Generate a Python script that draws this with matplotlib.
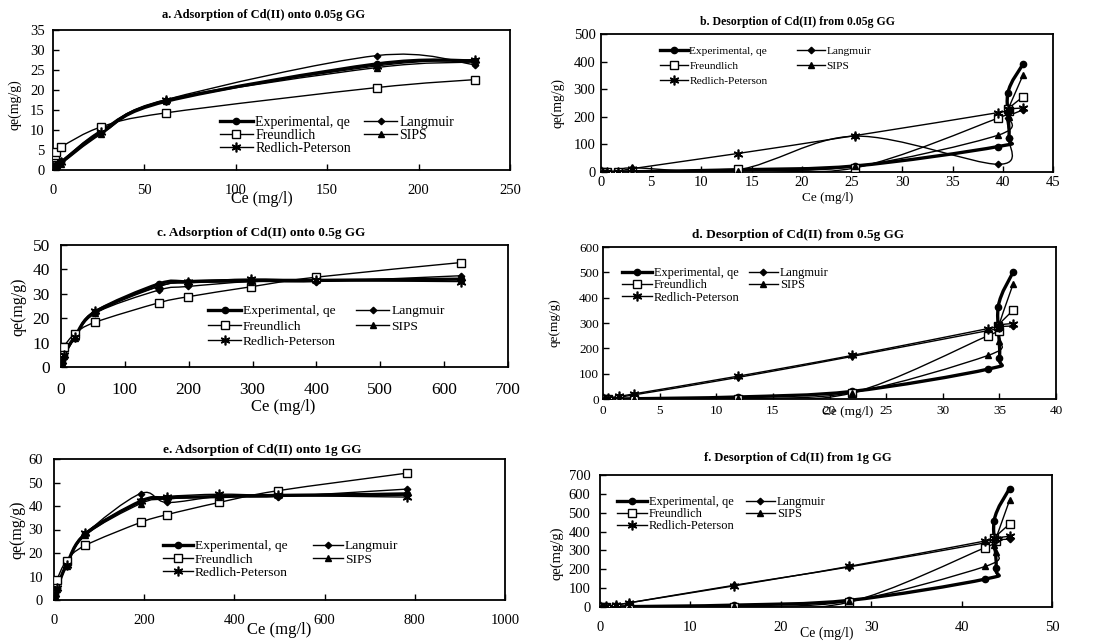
import numpy as np
import matplotlib
matplotlib.use('Agg')
import matplotlib.pyplot as plt
from matplotlib.path import Path
from matplotlib.patches import PathPatch
from matplotlib.lines import Line2D

plt.rcParams['font.family'] = 'Liberation Serif'

# a. adsorption, 0.05 g
ce_a = [0.5, 1.0, 1.8, 4.6, 26.5, 62, 177, 231]
exp_a = [0.3, 0.7, 1.3, 2.0, 9.5, 17.2, 26.5, 27.3]
lang_a = [0.2, 0.6, 1.2, 2.2, 10.0, 17.6, 28.6, 26.3]
freund_a = [3.2, 3.8, 4.4, 5.8, 10.8, 14.3, 20.6, 22.6]
sips_a = [0.1, 0.4, 0.9, 1.6, 9.0, 17.3, 25.6, 27.0]
rp_a = [0.2, 0.6, 1.1, 2.0, 9.6, 17.6, 26.0, 27.6]

# b. desorption, 0.05 g
ce_b = [0.1, 0.6, 1.7, 3.1, 13.6, 25.3, 39.5, 40.6, 40.5, 42.0]
exp_b = [0, 0, 0, 1, 8, 22, 92, 125, 285, 390]
lang_b = [0, 0, 0, 15, 8, 130, 28, 125, 195, 225]
freund_b = [0, 0, 0, 0, 10, 15, 195, 222, 228, 272]
sips_b = [0, 0, 0, 0, 5, 20, 133, 200, 222, 350]
rp_b = [0, 0, 0, 12, 67, 132, 215, 225, 228, 232]

# c. adsorption, 0.5 g
ce_c = [0.5, 2, 4, 22, 53, 153, 199, 298, 399, 626]
exp_c = [0.5, 3, 5, 12.5, 22.5, 34, 35, 35.5, 35.5, 36]
lang_c = [0.5, 2, 4, 12, 22, 31.5, 33, 35, 35, 37.4]
freund_c = [4, 6, 8.2, 13.7, 18.3, 26.3, 28.8, 32.9, 36.8, 42.8]
sips_c = [0.3, 2, 4.5, 12, 22, 33, 34.5, 35, 35.5, 36]
rp_c = [0.5, 2.5, 5, 12.5, 23, 33, 35, 36, 35.5, 35]

# d. desorption, 0.5 g
ce_d = [0.1, 0.45, 1.4, 2.7, 11.9, 22.0, 34.0, 35.0, 34.9, 36.2]
exp_d = [0, 0, 0, 1, 8, 30, 118, 163, 365, 500]
lang_d = [0, 3, 8, 16, 85, 168, 270, 278, 285, 288]
freund_d = [0, 0, 0, 0, 0, 24, 250, 270, 290, 350]
sips_d = [0, 0, 0, 0, 2, 25, 172, 230, 280, 452]
rp_d = [0, 4, 10, 20, 90, 172, 278, 285, 292, 298]

# e. adsorption, 1 g
ce_e = [1, 3, 6, 28, 69, 192, 250, 366, 496, 783]
exp_e = [1, 2.5, 5, 15, 28, 42, 43.5, 44, 44.5, 45]
lang_e = [0.5, 2, 5, 15, 28, 45.3, 41.5, 44, 44, 47.2]
freund_e = [5, 7, 8.5, 16.8, 23.2, 33, 36.3, 41.5, 46.5, 54]
sips_e = [0.5, 2, 4.5, 14.5, 27.5, 41, 43, 44, 44.5, 45.5]
rp_e = [1, 2.5, 5, 15, 28.5, 42, 44, 45, 44.5, 43.8]

# f. desorption, 1 g
ce_f = [0.1, 0.7, 1.8, 3.2, 14.8, 27.5, 42.6, 43.8, 43.6, 45.3]
exp_f = [0, 0, 0, 2, 10, 35, 148, 205, 458, 628]
lang_f = [0, 4, 10, 22, 115, 212, 340, 350, 355, 360]
freund_f = [0, 0, 0, 0, 0, 25, 315, 350, 365, 440]
sips_f = [0, 0, 0, 0, 3, 30, 215, 290, 330, 565]
rp_f = [0, 4, 10, 22, 112, 215, 350, 360, 365, 375]

names = ['Experimental, qe', 'Langmuir', 'Freundlich', 'SIPS', 'Redlich-Peterson']

styles = {
    'Experimental, qe': dict(lw=2.4, marker='o', ms=4.5, mfc='black', mew=1.0),
    'Langmuir': dict(lw=1.0, marker='D', ms=3.3, mfc='black', mew=1.0),
    'Freundlich': dict(lw=1.0, marker='s', ms=5.5, mfc='white', mew=1.0),
    'SIPS': dict(lw=1.0, marker='^', ms=4.5, mfc='black', mew=1.0),
    'Redlich-Peterson': dict(lw=1.0, marker=(6, 2, 0), ms=7, mfc='black', mew=1.2),
}

W, H = 1111, 642


def px_rect(l, r, t, b):
    return [l / W, 1 - b / H, (r - l) / W, (b - t) / H]


def smooth_series(ax, x, y, st):
    # smoothed line through the points (Catmull-Rom as cubic Bezier)
    pts = np.column_stack([x, y]).astype(float)
    n = len(pts)
    verts = [pts[0]]
    codes = [Path.MOVETO]
    for i in range(n - 1):
        p0 = pts[max(i - 1, 0)]
        p1 = pts[i]
        p2 = pts[i + 1]
        p3 = pts[min(i + 2, n - 1)]
        verts += [p1 + (p2 - p0) / 6, p2 - (p3 - p1) / 6, p2]
        codes += [Path.CURVE4] * 3
    ax.add_patch(PathPatch(Path(verts, codes), fill=False, lw=st['lw'],
                           ec='black', joinstyle='round', capstyle='round'))
    ax.plot(x, y, ls='none', marker=st['marker'], ms=st['ms'], mfc=st['mfc'],
            mec='black', mew=st['mew'], zorder=3)


panels = [
    dict(rect=px_rect(53, 510, 30, 170), x=ce_a,
         ys=[exp_a, lang_a, freund_a, sips_a, rp_a],
         xlim=(0, 250), xstep=50, ylim=(0, 35), ystep=5,
         title='a. Adsorption of Cd(II) onto 0.05g GG', tpos=(0.46, 1.107), tfs=9,
         tick_fs=10.5, xpad=10, ypad=6,
         xl=(0.457, -0.207), xl_fs=11.5, yl=(-0.083, 0.47), yl_fs=10,
         leg=(0.365, 0.386), leg_fs=10, cs=0.95, ls=0.0, hl=2.4),
    dict(rect=px_rect(601, 1053, 34, 172), x=ce_b,
         ys=[exp_b, lang_b, freund_b, sips_b, rp_b],
         xlim=(0, 45), xstep=5, ylim=(0, 500), ystep=100,
         title='b. Desorption of Cd(II) from 0.05g GG', tpos=(0.434, 1.087), tfs=8.5,
         tick_fs=10.5, xpad=3, ypad=4,
         xl=(0.502, -0.188), xl_fs=9.5, yl=(-0.095, 0.5), yl_fs=9.8,
         leg=(0.13, 0.913), leg_fs=8.2, cs=2.6, ls=0.45, hl=2.45),
    dict(rect=px_rect(61, 508, 245, 367), x=ce_c,
         ys=[exp_c, lang_c, freund_c, sips_c, rp_c],
         xlim=(0, 700), xstep=100, ylim=(0, 50), ystep=10,
         title='c. Adsorption of Cd(II) onto 0.5g GG', tpos=(0.447, 1.098), tfs=9.5,
         tick_fs=12.5, xpad=11, ypad=8,
         xl=(0.497, -0.33), xl_fs=12, yl=(-0.096, 0.49), yl_fs=11.5,
         leg=(0.329, 0.508), leg_fs=9.7, cs=1.5, ls=0.2, hl=2.45),
    dict(rect=px_rect(603, 1056, 247, 399), x=ce_d,
         ys=[exp_d, lang_d, freund_d, sips_d, rp_d],
         xlim=(0, 40), xstep=5, ylim=(0, 600), ystep=100,
         title='d. Desorption of Cd(II) from 0.5g GG', tpos=(0.43, 1.079), tfs=9.5,
         tick_fs=9.5, xpad=4.5, ypad=3,
         xl=(0.54, -0.086), xl_fs=9.5, yl=(-0.106, 0.5), yl_fs=9.5,
         leg=(0.042, 0.868), leg_fs=8.9, cs=0.75, ls=0.02, hl=2.4),
    dict(rect=px_rect(54, 505, 459, 600), x=ce_e,
         ys=[exp_e, lang_e, freund_e, sips_e, rp_e],
         xlim=(0, 1000), xstep=200, ylim=(0, 60), ystep=10,
         title='e. Adsorption of Cd(II) onto 1g GG', tpos=(0.461, 1.064), tfs=9.5,
         tick_fs=10.5, xpad=10, ypad=8,
         xl=(0.499, -0.213), xl_fs=12, yl=(-0.082, 0.5), yl_fs=11.5,
         leg=(0.242, 0.426), leg_fs=9.7, cs=1.9, ls=0.07, hl=2.2),
    dict(rect=px_rect(600, 1052, 475, 607), x=ce_f,
         ys=[exp_f, lang_f, freund_f, sips_f, rp_f],
         xlim=(0, 50), xstep=10, ylim=(0, 700), ystep=100,
         title='f. Desorption of Cd(II) from 1g GG', tpos=(0.438, 1.129), tfs=9,
         tick_fs=10.5, xpad=10, ypad=7,
         xl=(0.502, -0.197), xl_fs=10, yl=(-0.095, 0.41), yl_fs=10.5,
         leg=(0.038, 0.84), leg_fs=8.9, cs=0.9, ls=0.0, hl=2.4),
]

fig = plt.figure(figsize=(W / 100, H / 100), dpi=100)

for p in panels:
    ax = fig.add_axes(p['rect'])
    for name, y in zip(names, p['ys']):
        smooth_series(ax, p['x'], y, styles[name])

    ax.set_xlim(*p['xlim'])
    ax.set_ylim(*p['ylim'])
    ax.set_xticks(np.arange(p['xlim'][0], p['xlim'][1] + 1e-9, p['xstep']))
    ax.set_yticks(np.arange(p['ylim'][0], p['ylim'][1] + 1e-9, p['ystep']))
    ax.xaxis.set_major_formatter(plt.FormatStrFormatter('%g'))
    ax.yaxis.set_major_formatter(plt.FormatStrFormatter('%g'))
    ax.tick_params(axis='both', direction='in', length=4, width=1,
                   labelsize=p['tick_fs'])
    ax.tick_params(axis='x', pad=p['xpad'])
    ax.tick_params(axis='y', pad=p['ypad'])
    for s in ax.spines.values():
        s.set_linewidth(1.3)

    ax.text(p['tpos'][0], p['tpos'][1], p['title'], transform=ax.transAxes,
            ha='center', va='center', fontsize=p['tfs'], fontweight='bold')
    ax.text(p['xl'][0], p['xl'][1], 'Ce (mg/l)', transform=ax.transAxes,
            ha='center', va='center', fontsize=p['xl_fs'])
    ax.text(p['yl'][0], p['yl'][1], 'qe(mg/g)', transform=ax.transAxes,
            ha='center', va='center', rotation=90, fontsize=p['yl_fs'])

    # legend rows: Experimental | Langmuir, Freundlich | SIPS, Redlich-Peterson
    order = ['Experimental, qe', 'Freundlich', 'Redlich-Peterson', 'Langmuir', 'SIPS']
    handles = []
    for name in order:
        st = styles[name]
        handles.append(Line2D([], [], color='black', lw=st['lw'], marker=st['marker'],
                              ms=st['ms'], mfc=st['mfc'], mec='black', mew=st['mew']))
    ax.legend(handles, order, loc='upper left', bbox_to_anchor=p['leg'], ncol=2,
              frameon=False, borderpad=0, borderaxespad=0, fontsize=p['leg_fs'],
              handlelength=p['hl'], handletextpad=0.15, columnspacing=p['cs'],
              labelspacing=p['ls'], numpoints=1)

fig.savefig('out.png', dpi=100)
